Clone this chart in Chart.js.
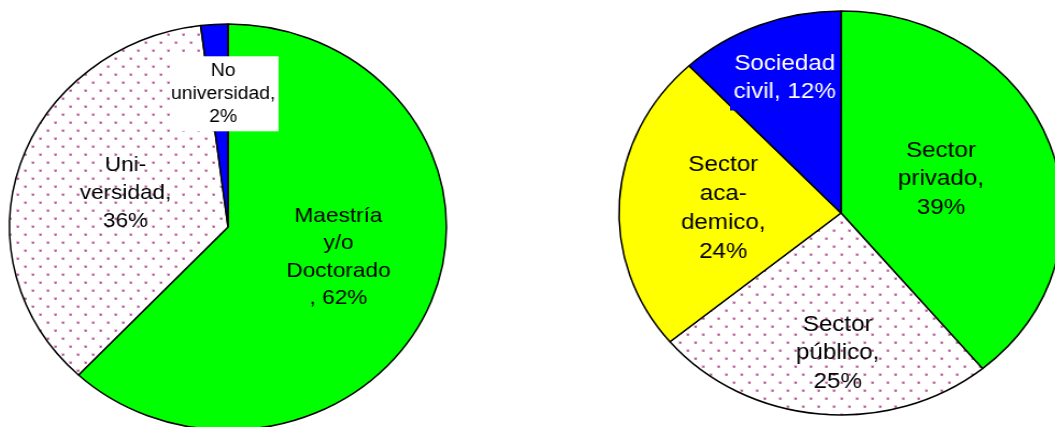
<!DOCTYPE html>
<html><head><meta charset="utf-8">
<script src="https://cdn.jsdelivr.net/npm/chart.js@4.4.1/dist/chart.umd.min.js"></script>
<style>
html,body{margin:0;padding:0;background:#fff;}
#wrap{position:relative;width:1055px;height:427px;overflow:hidden;background:#fff;}
.pie{position:absolute;}
#leftBox{left:7.5px;top:6.7px;transform-origin:220px 220px;transform:scaleX(1.076);}
#rightBox{left:621px;top:2.5px;transform-origin:220px 210px;transform:scaleX(1.099);}
</style></head><body>
<div id="wrap">
<div class="pie" id="leftBox"><canvas id="left" width="440" height="440"></canvas></div>
<div class="pie" id="rightBox"><canvas id="right" width="440" height="420"></canvas></div>
</div>
<script>
// ---- data ----
const leftCategories = ['Maestría y/o Doctorado', 'Universidad', 'No universidad'];
const leftValues = [62, 36, 2];
const leftLabelLines = [['Maestría', 'y/o', 'Doctorado', ', {v}%'], ['Uni-', 'versidad,', '{v}%'], ['No', 'universidad,', '{v}%']];

const rightCategories = ['Sector privado', 'Sector público', 'Sector académico', 'Sociedad civil'];
const rightValues = [39, 25, 24, 12];
const rightLabelLines = [['Sector', 'privado,', '{v}%'], ['Sector', 'público,', '{v}%'], ['Sector', 'aca-', 'demico,', '{v}%'], ['Sociedad', 'civil, {v}%']];

// ---- styles ----
function dotPattern() {
  const c = document.createElement('canvas');
  c.width = 14; c.height = 16;
  const g = c.getContext('2d');
  g.fillStyle = '#ffffff'; g.fillRect(0, 0, 14, 16);
  [[3, 3], [10, 11]].forEach(([x, y]) => {
    g.fillStyle = '#e6c3da'; g.fillRect(x - 1, y - 1, 3, 3);
    g.fillStyle = '#b04a8c'; g.fillRect(x, y, 1.6, 1.6);
  });
  return g.createPattern(c, 'repeat');
}
const DOTS = dotPattern();
const FONT = '"Liberation Sans", Arial, sans-serif';

const labelPlugin = {
  id: 'sliceLabels',
  afterDatasetsDraw(chart, args, opts) {
    const ctx = chart.ctx;
    const arc = chart.getDatasetMeta(0).data[0];
    const cx = arc.x, cy = arc.y, sx = opts.sx;
    const values = chart.data.datasets[0].data;
    opts.items.forEach((it, i) => {
      const lines = opts.lines[i].map(s => s.replace('{v}', values[i]));
      ctx.save();
      if (it.box) {
        ctx.fillStyle = it.box.color;
        ctx.fillRect(cx + it.box.x0 / sx, cy + it.box.y0, (it.box.x1 - it.box.x0) / sx, it.box.y1 - it.box.y0);
      }
      ctx.font = it.size + 'px ' + FONT;
      ctx.fillStyle = it.color;
      ctx.textAlign = 'center';
      ctx.textBaseline = 'alphabetic';
      lines.forEach((ln, k) => ctx.fillText(ln, cx + it.dx / sx, cy + it.b0 + k * it.lh));
      ctx.restore();
    });
  }
};

function makePie(id, cats, vals, colors, radius, sx, lines, items) {
  return new Chart(document.getElementById(id), {
    type: 'pie',
    data: { labels: cats, datasets: [{ data: vals, backgroundColor: colors, borderColor: '#000', borderWidth: 1.5 }] },
    options: {
      responsive: false, animation: false, devicePixelRatio: 1, events: [],
      radius: radius,
      layout: { padding: 0 },
      plugins: { legend: { display: false }, tooltip: { enabled: false }, sliceLabels: { sx: sx, lines: lines, items: items } }
    },
    plugins: [labelPlugin]
  });
}

makePie('left', leftCategories, leftValues, ['#00ff00', DOTS, '#0000ff'], 203, 1.076, leftLabelLines, [
  { dx: 110.5, b0: -5, lh: 27.4, size: 21, color: '#000' },
  { dx: -102.5, b0: -56, lh: 28, size: 21, color: '#000' },
  { dx: -4.8, b0: -150.7, lh: 22.9, size: 18, color: '#000', box: { color: '#fff', x0: -57.5, x1: 50.5, y0: -170.7, y1: -95.7 } }
]);

makePie('right', rightCategories, rightValues, ['#00ff00', DOTS, '#ffff00', '#0000ff'], 202, 1.099, rightLabelLines, [
  { dx: 100, b0: -56.5, lh: 28.7, size: 22, color: '#000' },
  { dx: -3.3, b0: 117.5, lh: 28.7, size: 22, color: '#000' },
  { dx: -117.7, b0: -41.8, lh: 28.8, size: 22, color: '#000' },
  { dx: -56.3, b0: -143.5, lh: 28.7, size: 22, color: '#fff', box: { color: '#0000ff', x0: -111, x1: -1, y0: -164, y1: -102.5 } }
]);
</script>
</body></html>
